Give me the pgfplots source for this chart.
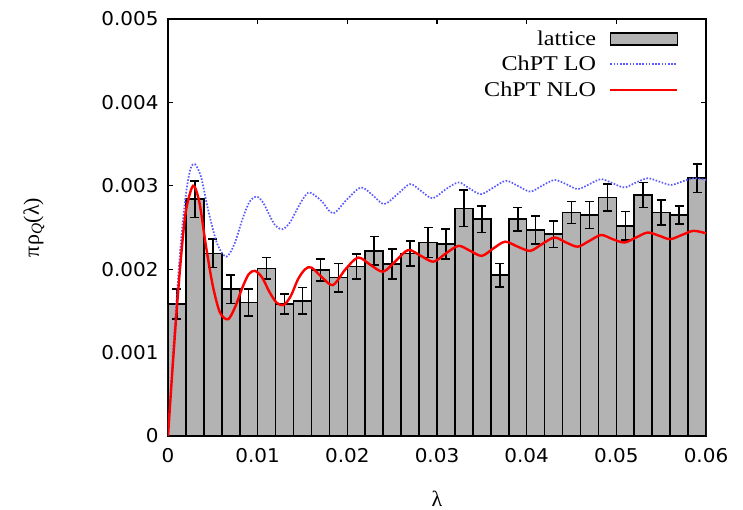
\documentclass[border=0pt]{standalone}
\usepackage{fontspec}
\usepackage{pgfplots}
\usepackage{pgfplotstable}
\pgfplotsset{compat=1.18}
\setmainfont{Liberation Serif}
\newfontfamily\ticksans{DejaVu Sans}[FakeStretch=1.05]
\newfontfamily\legserif{Liberation Serif}[FakeStretch=1.15]

\definecolor{barfill}{RGB}{179,179,179}
\definecolor{lolue}{RGB}{90,90,255}

\pgfplotsset{
  boxlegend/.style={legend image code/.code={%
    \draw[fill=barfill, draw=black, line width=1.6pt] (0pt,-6pt) rectangle (67pt,6pt);}},
  linelegend/.style={legend image code/.code={%
    \draw[##1] (0pt,0pt) -- (67pt,0pt);}},
}

% lattice histogram: bin centre, height, error
\pgfplotstableread{
xc     y        err
0.001  0.00158  0.00018
0.003  0.00284  0.00022
0.005  0.00219  0.00017
0.007  0.00176  0.00017
0.009  0.00160  0.00016
0.011  0.00201  0.00013
0.013  0.00158  0.00012
0.015  0.00162  0.00016
0.017  0.00199  0.00013
0.019  0.00190  0.00017
0.021  0.00203  0.00015
0.023  0.00222  0.00017
0.025  0.00206  0.00018
0.027  0.00219  0.00015
0.029  0.00232  0.00018
0.031  0.00230  0.00018
0.033  0.00273  0.00022
0.035  0.00260  0.00016
0.037  0.00193  0.00014
0.039  0.00260  0.00014
0.041  0.00247  0.00017
0.043  0.00242  0.00016
0.045  0.00268  0.00013
0.047  0.00265  0.00016
0.049  0.00286  0.00016
0.051  0.00252  0.00017
0.053  0.00289  0.00015
0.055  0.00268  0.00015
0.057  0.00265  0.00011
0.059  0.00309  0.00017
}\lattice

% leading-order ChPT
\pgfplotstableread{
x       y
0       0
0.0005  0.0009
0.001   0.0017
0.0015  0.0024
0.002   0.0029
0.0025  0.0032
0.003   0.00326
0.0037  0.0031
0.0045  0.0027
0.0055  0.0023
0.0065  0.00215
0.0074  0.0023
0.0083  0.0026
0.0091  0.00281
0.0099  0.00287
0.0106  0.0028
0.0113  0.00265
0.012   0.00252
0.0128  0.00248
0.0136  0.00256
0.0143  0.0027
0.0151  0.00285
0.0158  0.00292
0.0171  0.00282
0.0184  0.00267
0.0199  0.00283
0.0215  0.00298
0.0228  0.00289
0.0241  0.00278
0.0256  0.0029
0.027   0.00302
0.0282  0.00294
0.0295  0.00285
0.031   0.00296
0.0324  0.00304
0.0336  0.00297
0.0349  0.0029
0.0363  0.00298
0.0377  0.00306
0.039   0.003
0.0404  0.00293
0.0417  0.003
0.0431  0.00307
0.0444  0.00302
0.0457  0.00296
0.047   0.00302
0.0483  0.00308
0.0496  0.00303
0.0509  0.00298
0.0522  0.00304
0.0535  0.00309
0.0548  0.00305
0.0561  0.00301
0.0573  0.00305
0.0586  0.00309
0.06    0.00307
}\chptlo

% next-to-leading-order ChPT
\pgfplotstableread{
x       y
0       0
0.0005  0.0008
0.001   0.00155
0.0015  0.0022
0.002   0.0027
0.0028  0.0030
0.0035  0.0028
0.0042  0.0023
0.005   0.0018
0.0058  0.00148
0.0067  0.0014
0.0075  0.00155
0.0083  0.00178
0.009   0.00194
0.0097  0.00198
0.0105  0.0019
0.0113  0.00173
0.0121  0.0016
0.0129  0.00157
0.0137  0.00168
0.0145  0.00188
0.0153  0.002
0.016   0.00202
0.0172  0.0019
0.0184  0.00181
0.0198  0.002
0.0212  0.00214
0.0226  0.00205
0.024   0.00197
0.0254  0.0021
0.0268  0.00223
0.0282  0.00216
0.0296  0.00209
0.031   0.00219
0.0324  0.00228
0.0337  0.00222
0.035   0.00216
0.0363  0.00225
0.0376  0.00233
0.039   0.00227
0.0404  0.00222
0.0417  0.0023
0.0431  0.00238
0.0444  0.00232
0.0457  0.00227
0.047   0.00234
0.0483  0.00241
0.0496  0.00236
0.0509  0.00232
0.0522  0.00238
0.0535  0.00244
0.0548  0.0024
0.056   0.00236
0.0573  0.00241
0.0586  0.00246
0.06    0.00243
}\chptnlo

\begin{document}
\begin{tikzpicture}
\begin{axis}[
  scale only axis,
  width=538pt, height=417pt,
  xmin=0, xmax=0.06, ymin=0, ymax=0.005,
  scaled x ticks=false, scaled y ticks=false,
  xtick={0,0.01,0.02,0.03,0.04,0.05,0.06},
  xticklabels={0,0.01,0.02,0.03,0.04,0.05,0.06},
  ytick={0,0.001,0.002,0.003,0.004,0.005},
  yticklabels={0,0.001,0.002,0.003,0.004,0.005},
  tick label style={font=\ticksans\fontsize{19}{22}\selectfont},
  xticklabel style={yshift=-9pt},
  yticklabel style={xshift=-6pt},
  axis line style={line width=1.6pt},
  major tick length=5pt,
  tick style={line width=1.2pt, black},
  xlabel={λ},
  ylabel={πρ\textsubscript{\textit{Q}}(λ)},
  label style={font=\fontsize{22}{26}\selectfont},
  xlabel style={yshift=-21pt},
  ylabel style={yshift=50pt},
  legend style={draw=none, fill=none, at={(axis description cs:0.955,0.982)},
    anchor=north east, font=\legserif\fontsize{21}{24}\selectfont,
    row sep=5.5pt, /tikz/every odd column/.append style={column sep=11pt}},
  legend cell align=right,
  legend plot pos=right,
]
\addplot[forget plot, ybar, bar width=0.002, fill=barfill, draw=black, line width=1.6pt,
  error bars/.cd, y dir=both, y explicit,
  error bar style={line width=1.6pt},
  error mark options={rotate=90, mark size=4.5pt, line width=1.6pt},
  ] table[x=xc, y=y, y error=err] {\lattice};
\addplot[lolue, line width=1.7pt, dash pattern=on 1.6pt off 1.6pt, smooth, forget plot] table[x=x, y=y] {\chptlo};
\addplot[red, line width=2.4pt, smooth, forget plot] table[x=x, y=y] {\chptnlo};
\addlegendimage{boxlegend}
\addlegendentry{lattice}
\addlegendimage{lolue, line width=1.7pt, dash pattern=on 1.6pt off 1.6pt, linelegend}
\addlegendentry{ChPT LO}
\addlegendimage{red, line width=2.4pt, linelegend}
\addlegendentry{ChPT NLO}
\end{axis}
\pgfresetboundingbox
\path (-168pt,-74pt) rectangle (575pt,436pt);
\end{tikzpicture}
\end{document}
